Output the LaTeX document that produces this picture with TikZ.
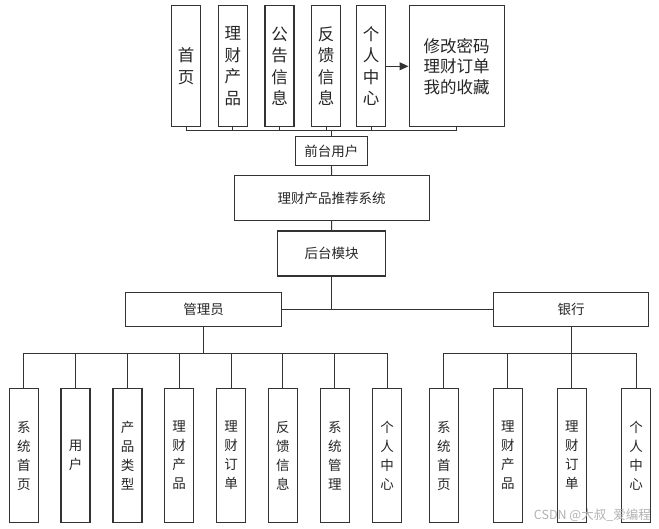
\documentclass[tikz,border=0pt]{standalone}
\usepackage{fontspec}
\setmainfont{Noto Sans CJK SC}
\usetikzlibrary{arrows.meta,calc}
\begin{document}
\begin{tikzpicture}[x=1pt,y=-1pt,
  line/.style={draw=black!80,line width=1pt},
  box/.style={draw=black!80,line width=1.1pt,fill=white,inner sep=0pt,text=black!85,align=center},
  topbox/.style={box,minimum width=29pt,minimum height=121.3pt,font=\fontsize{16.5}{21.5}\selectfont},
  midbox/.style={box,font=\fontsize{13.5}{16}\selectfont},
  botbox/.style={box,minimum width=29pt,minimum height=134.2pt,font=\fontsize{13.5}{19}\selectfont}]
\useasboundingbox (0,0) rectangle (659,529);
% top row
\node[topbox] (t1) at (186.2,66.3) {首\\页};
\node[topbox] (t2) at (232.8,66.3) {理\\财\\产\\品};
\node[topbox] (t3) at (279.5,66.3) {公\\告\\信\\息};
\node[topbox] (t4) at (326.2,66.3) {反\\馈\\信\\息};
\node[topbox] (t5) at (371.2,66.3) {个\\人\\中\\心};
\node[topbox,minimum width=95.3pt,font=\fontsize{16.5}{20.5}\selectfont] (t6) at (456.7,66.3) {修改密码\\理财订单\\我的收藏};
\draw[line,-{Triangle[length=9pt,width=8pt]}] (t5.east) -- (t6.west);
% front user
\node[midbox,minimum width=72.7pt,minimum height=29pt] (fu) at (331.4,151.2) {前台用户};
\coordinate (tbus) at (331.4,130.3);
\foreach \n in {t1,t2,t3,t4,t5,t6} \draw[line] (\n.south) |- (tbus);
\draw[line] (tbus) -- (fu.north);
% system
\node[midbox,minimum width=194.7pt,minimum height=45pt] (sys) at (331.7,198.2) {理财产品推荐系统};
\draw[line] (fu.south) -- (sys.north);
\node[midbox,minimum width=108.4pt,minimum height=45pt] (bk) at (331.5,253.5) {后台模块};
\draw[line] (sys.south) -- (bk.north);
% admin & bank
\node[midbox,minimum width=155.6pt,minimum height=34.4pt] (adm) at (203.5,309.5) {管理员};
\node[midbox,minimum width=155.4pt,minimum height=34.4pt] (bank) at (571,309.5) {银行};
\draw[line] (adm.east) -- (bank.west);
\coordinate (mid) at (331.5,309.5);
\draw[line] (bk.south) -- (mid);
% admin children
\coordinate (abus) at (203.5,353.3);
\draw[line] (adm.south) -- (abus);
\node[botbox] (a1) at (23.8,455.5) {系\\统\\首\\页};
\node[botbox] (a2) at (75.5,455.5) {用\\户};
\node[botbox] (a3) at (127.5,455.5) {产\\品\\类\\型};
\node[botbox] (a4) at (179.2,455.5) {理\\财\\产\\品};
\node[botbox] (a5) at (231.2,455.5) {理\\财\\订\\单};
\node[botbox] (a6) at (282.8,455.5) {反\\馈\\信\\息};
\node[botbox] (a7) at (334.8,455.5) {系\\统\\管\\理};
\node[botbox] (a8) at (387,455.5) {个\\人\\中\\心};
\foreach \n in {a1,a2,a3,a4,a5,a6,a7,a8} \draw[line] (\n.north) |- (abus);
% bank children
\coordinate (bbus) at (571,353.3);
\draw[line] (bank.south) -- (bbus);
\node[botbox] (b1) at (443.8,455.5) {系\\统\\首\\页};
\node[botbox] (b2) at (507.8,455.5) {理\\财\\产\\品};
\node[botbox] (b3) at (571.8,455.5) {理\\财\\订\\单};
\node[botbox] (b4) at (636.2,455.5) {个\\人\\中\\心};
\foreach \n in {b1,b2,b3,b4} \draw[line] (\n.north) |- (bbus);
% watermark
\node[text=black!30,font=\fontsize{12.5}{14}\selectfont,anchor=east,inner sep=0pt] (wm) at (651,515) {CSDN @大叔\_爱编程};
\end{tikzpicture}
\end{document}
